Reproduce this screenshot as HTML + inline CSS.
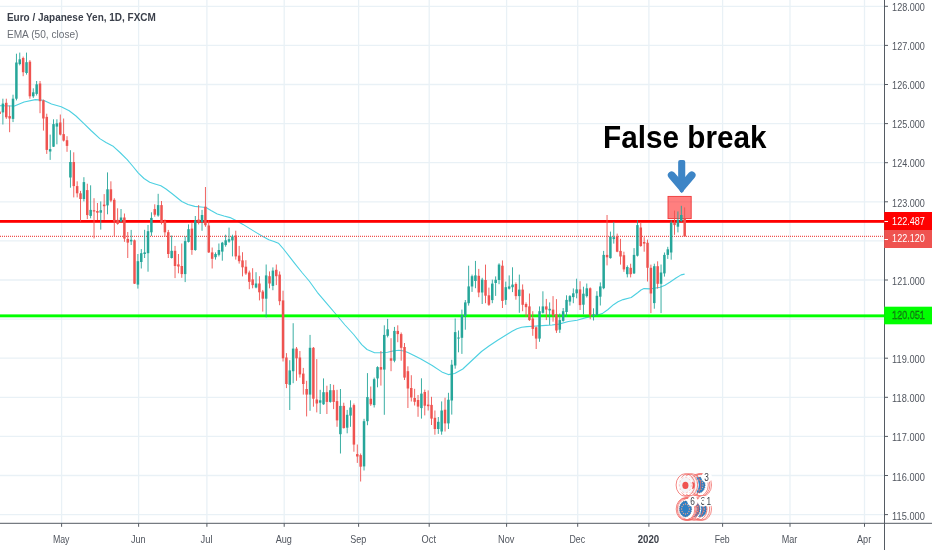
<!DOCTYPE html>
<html lang="en"><head><meta charset="utf-8"><title>EURJPY False break</title>
<style>html,body{margin:0;padding:0;background:#fff;width:932px;height:550px;overflow:hidden}</style></head>
<body>
<svg width="932" height="550" viewBox="0 0 932 550" style="display:block;filter:blur(0.4px)">
<rect width="932" height="550" fill="#fff"/>
<g stroke="#e9f1f6" stroke-width="1.3" shape-rendering="auto">
<line x1="0" x2="884.5" y1="514.6" y2="514.6"/>
<line x1="0" x2="884.5" y1="475.5" y2="475.5"/>
<line x1="0" x2="884.5" y1="436.4" y2="436.4"/>
<line x1="0" x2="884.5" y1="397.3" y2="397.3"/>
<line x1="0" x2="884.5" y1="358.2" y2="358.2"/>
<line x1="0" x2="884.5" y1="319.1" y2="319.1"/>
<line x1="0" x2="884.5" y1="280.0" y2="280.0"/>
<line x1="0" x2="884.5" y1="240.9" y2="240.9"/>
<line x1="0" x2="884.5" y1="201.8" y2="201.8"/>
<line x1="0" x2="884.5" y1="162.7" y2="162.7"/>
<line x1="0" x2="884.5" y1="123.6" y2="123.6"/>
<line x1="0" x2="884.5" y1="84.5" y2="84.5"/>
<line x1="0" x2="884.5" y1="45.4" y2="45.4"/>
<line x1="0" x2="884.5" y1="6.3" y2="6.3"/>
<line x1="61.6" x2="61.6" y1="0" y2="523.3"/>
<line x1="138.6" x2="138.6" y1="0" y2="523.3"/>
<line x1="206.9" x2="206.9" y1="0" y2="523.3"/>
<line x1="284.2" x2="284.2" y1="0" y2="523.3"/>
<line x1="358.6" x2="358.6" y1="0" y2="523.3"/>
<line x1="429.2" x2="429.2" y1="0" y2="523.3"/>
<line x1="506.6" x2="506.6" y1="0" y2="523.3"/>
<line x1="577.7" x2="577.7" y1="0" y2="523.3"/>
<line x1="648.9" x2="648.9" y1="0" y2="523.3"/>
<line x1="722.6" x2="722.6" y1="0" y2="523.3"/>
<line x1="790.0" x2="790.0" y1="0" y2="523.3"/>
<line x1="864.5" x2="864.5" y1="0" y2="523.3"/>
</g>
<path d="M0.0 105.7 L14.5 106.0 L24.1 102.0 L35.4 99.6 L43.5 100.2 L51.5 104.0 L61.2 106.8 L69.2 110.8 L76.0 116.0 L83.7 123.3 L91.0 130.5 L99.8 138.6 L106.0 142.5 L112.7 145.9 L120.0 152.5 L127.2 159.6 L133.0 166.5 L138.4 173.2 L144.0 178.5 L149.7 182.3 L155.0 184.0 L160.9 185.8 L166.0 189.0 L172.2 193.8 L181.8 201.5 L188.0 204.5 L194.7 206.4 L201.0 207.0 L206.0 207.5 L211.0 210.5 L217.3 213.9 L224.0 216.0 L230.1 217.6 L236.0 220.5 L243.0 224.4 L255.9 232.4 L262.0 236.0 L268.8 239.7 L274.0 241.5 L278.4 243.2 L283.5 249.0 L294.7 263.3 L302.0 272.5 L309.2 281.0 L317.3 292.3 L326.9 303.6 L336.6 315.0 L345.0 325.0 L353.7 334.5 L361.7 344.6 L367.0 349.5 L374.6 352.7 L381.0 352.8 L387.5 352.2 L393.0 351.0 L398.8 350.2 L404.0 351.0 L408.4 352.7 L415.0 356.0 L420.9 359.0 L432.2 365.5 L441.8 371.9 L448.3 374.6 L454.7 373.5 L462.8 369.0 L470.8 361.5 L481.5 351.5 L489.0 346.0 L497.6 340.2 L512.1 331.3 L517.0 328.8 L521.7 327.3 L527.0 326.6 L533.0 326.2 L545.9 325.4 L552.0 325.0 L558.8 324.1 L568.4 321.5 L577.0 320.2 L586.1 317.6 L595.0 315.8 L602.2 313.6 L608.0 309.5 L613.5 304.7 L618.0 301.8 L623.1 299.6 L631.2 297.5 L637.6 292.7 L641.0 290.0 L644.0 288.6 L650.5 288.9 L660.1 287.3 L665.0 285.2 L669.8 282.2 L676.0 278.0 L681.1 274.9 L684.6 274.1" fill="none" stroke="#4dd0e1" stroke-width="1.1" stroke-linejoin="round"/>
<rect x="0" y="220.0" width="884.5" height="2.8" fill="#ff0000"/>
<rect x="0" y="314.4" width="884.5" height="2.9" fill="#00ff00"/>
<line x1="0" x2="884.5" y1="236.3" y2="236.3" stroke="#ef5350" stroke-width="1.25" stroke-dasharray="1 1"/>
<rect x="668.0" y="196.4" width="23.2" height="22.2" fill="rgba(255,0,0,0.5)" stroke="rgba(238,50,50,0.95)" stroke-width="0.9"/>
<g>
<rect x="0" y="111.6" width="0.8" height="2.4" fill="#ef5350"/>
<rect x="2.44" y="98.7" width="0.9" height="25.8" fill="#26a69a"/>
<rect x="1.65" y="103.6" width="2.5" height="8.8" fill="#26a69a"/>
<rect x="5.82" y="98.7" width="0.9" height="20.2" fill="#ef5350"/>
<rect x="5.02" y="102.8" width="2.5" height="14.5" fill="#ef5350"/>
<rect x="9.20" y="105.6" width="0.9" height="26.6" fill="#ef5350"/>
<rect x="8.40" y="116.1" width="2.5" height="2.4" fill="#ef5350"/>
<rect x="12.57" y="94.7" width="0.9" height="27.4" fill="#26a69a"/>
<rect x="11.77" y="98.7" width="2.5" height="20.2" fill="#26a69a"/>
<rect x="15.95" y="53.7" width="0.9" height="46.7" fill="#26a69a"/>
<rect x="15.15" y="62.5" width="2.5" height="36.2" fill="#26a69a"/>
<rect x="19.32" y="52.6" width="0.9" height="12.8" fill="#26a69a"/>
<rect x="18.52" y="59.3" width="2.5" height="4.8" fill="#26a69a"/>
<rect x="22.70" y="56.6" width="0.9" height="19.6" fill="#ef5350"/>
<rect x="21.90" y="58.0" width="2.5" height="14.2" fill="#ef5350"/>
<rect x="26.07" y="52.6" width="0.9" height="22.0" fill="#26a69a"/>
<rect x="25.27" y="62.2" width="2.5" height="10.8" fill="#26a69a"/>
<rect x="29.45" y="60.1" width="0.9" height="38.6" fill="#ef5350"/>
<rect x="28.65" y="61.7" width="2.5" height="34.6" fill="#ef5350"/>
<rect x="32.82" y="88.3" width="0.9" height="9.6" fill="#26a69a"/>
<rect x="32.02" y="92.3" width="2.5" height="4.0" fill="#26a69a"/>
<rect x="36.20" y="81.0" width="0.9" height="14.5" fill="#26a69a"/>
<rect x="35.40" y="84.3" width="2.5" height="9.6" fill="#26a69a"/>
<rect x="39.57" y="81.0" width="0.9" height="32.2" fill="#ef5350"/>
<rect x="38.77" y="83.5" width="2.5" height="17.7" fill="#ef5350"/>
<rect x="42.95" y="99.6" width="0.9" height="31.0" fill="#ef5350"/>
<rect x="42.15" y="100.4" width="2.5" height="18.1" fill="#ef5350"/>
<rect x="46.32" y="113.7" width="0.9" height="40.2" fill="#ef5350"/>
<rect x="45.52" y="116.9" width="2.5" height="33.0" fill="#ef5350"/>
<rect x="49.70" y="134.6" width="0.9" height="25.3" fill="#26a69a"/>
<rect x="48.90" y="149.1" width="2.5" height="2.4" fill="#26a69a"/>
<rect x="53.07" y="119.3" width="0.9" height="27.7" fill="#26a69a"/>
<rect x="52.27" y="124.1" width="2.5" height="22.6" fill="#26a69a"/>
<rect x="56.45" y="119.3" width="0.9" height="25.0" fill="#26a69a"/>
<rect x="55.65" y="123.3" width="2.5" height="3.3" fill="#26a69a"/>
<rect x="59.82" y="114.5" width="0.9" height="20.9" fill="#ef5350"/>
<rect x="59.02" y="122.5" width="2.5" height="12.1" fill="#ef5350"/>
<rect x="63.20" y="118.5" width="0.9" height="23.0" fill="#ef5350"/>
<rect x="62.40" y="134.1" width="2.5" height="6.5" fill="#ef5350"/>
<rect x="66.57" y="136.2" width="0.9" height="15.6" fill="#ef5350"/>
<rect x="65.77" y="140.2" width="2.5" height="5.7" fill="#ef5350"/>
<rect x="69.95" y="150.2" width="0.9" height="37.5" fill="#26a69a"/>
<rect x="69.15" y="162.0" width="2.5" height="15.5" fill="#26a69a"/>
<rect x="73.32" y="152.3" width="0.9" height="45.1" fill="#ef5350"/>
<rect x="72.52" y="162.0" width="2.5" height="24.1" fill="#ef5350"/>
<rect x="76.70" y="181.3" width="0.9" height="16.1" fill="#ef5350"/>
<rect x="75.90" y="186.1" width="2.5" height="7.2" fill="#ef5350"/>
<rect x="80.07" y="190.9" width="0.9" height="30.6" fill="#ef5350"/>
<rect x="79.27" y="193.3" width="2.5" height="5.7" fill="#ef5350"/>
<rect x="83.45" y="177.2" width="0.9" height="24.2" fill="#26a69a"/>
<rect x="82.65" y="182.1" width="2.5" height="16.9" fill="#26a69a"/>
<rect x="86.82" y="183.7" width="0.9" height="35.4" fill="#ef5350"/>
<rect x="86.02" y="190.1" width="2.5" height="25.0" fill="#ef5350"/>
<rect x="90.20" y="185.3" width="0.9" height="33.0" fill="#26a69a"/>
<rect x="89.40" y="209.9" width="2.5" height="6.0" fill="#26a69a"/>
<rect x="93.57" y="198.2" width="0.9" height="40.2" fill="#ef5350"/>
<rect x="92.77" y="210.2" width="2.5" height="1.3" fill="#ef5350"/>
<rect x="96.95" y="203.0" width="0.9" height="17.0" fill="#ef5350"/>
<rect x="96.15" y="211.0" width="2.5" height="1.7" fill="#ef5350"/>
<rect x="100.32" y="201.4" width="0.9" height="28.2" fill="#26a69a"/>
<rect x="99.52" y="210.2" width="2.5" height="2.5" fill="#26a69a"/>
<rect x="103.70" y="194.1" width="0.9" height="25.8" fill="#ef5350"/>
<rect x="102.90" y="204.6" width="2.5" height="1.6" fill="#ef5350"/>
<rect x="107.07" y="172.4" width="0.9" height="41.9" fill="#26a69a"/>
<rect x="106.27" y="189.3" width="2.5" height="16.1" fill="#26a69a"/>
<rect x="110.45" y="181.3" width="0.9" height="20.9" fill="#ef5350"/>
<rect x="109.65" y="189.3" width="2.5" height="11.3" fill="#ef5350"/>
<rect x="113.82" y="198.2" width="0.9" height="38.0" fill="#ef5350"/>
<rect x="113.02" y="199.8" width="2.5" height="21.7" fill="#ef5350"/>
<rect x="117.20" y="208.3" width="0.9" height="16.4" fill="#ef5350"/>
<rect x="116.40" y="219.9" width="2.5" height="4.0" fill="#ef5350"/>
<rect x="120.57" y="209.0" width="0.9" height="13.3" fill="#26a69a"/>
<rect x="119.77" y="217.5" width="2.5" height="4.0" fill="#26a69a"/>
<rect x="123.95" y="213.5" width="0.9" height="28.3" fill="#ef5350"/>
<rect x="123.15" y="217.5" width="2.5" height="21.1" fill="#ef5350"/>
<rect x="127.32" y="232.0" width="0.9" height="26.0" fill="#ef5350"/>
<rect x="126.52" y="238.9" width="2.5" height="3.7" fill="#ef5350"/>
<rect x="130.70" y="229.9" width="0.9" height="15.1" fill="#26a69a"/>
<rect x="129.90" y="239.8" width="2.5" height="1.6" fill="#26a69a"/>
<rect x="134.07" y="239.5" width="0.9" height="44.5" fill="#ef5350"/>
<rect x="133.27" y="240.3" width="2.5" height="43.4" fill="#ef5350"/>
<rect x="137.45" y="254.0" width="0.9" height="34.6" fill="#26a69a"/>
<rect x="136.65" y="261.2" width="2.5" height="23.4" fill="#26a69a"/>
<rect x="140.82" y="249.1" width="0.9" height="19.4" fill="#26a69a"/>
<rect x="140.02" y="253.2" width="2.5" height="8.8" fill="#26a69a"/>
<rect x="144.20" y="229.8" width="0.9" height="28.2" fill="#26a69a"/>
<rect x="143.40" y="252.4" width="2.5" height="1.6" fill="#26a69a"/>
<rect x="147.57" y="225.0" width="0.9" height="46.7" fill="#26a69a"/>
<rect x="146.77" y="231.2" width="2.5" height="22.0" fill="#26a69a"/>
<rect x="150.95" y="212.3" width="0.9" height="23.6" fill="#26a69a"/>
<rect x="150.15" y="217.9" width="2.5" height="14.4" fill="#26a69a"/>
<rect x="154.32" y="204.3" width="0.9" height="12.4" fill="#ef5350"/>
<rect x="153.52" y="209.1" width="2.5" height="5.6" fill="#ef5350"/>
<rect x="157.70" y="193.8" width="0.9" height="22.9" fill="#26a69a"/>
<rect x="156.90" y="205.1" width="2.5" height="10.4" fill="#26a69a"/>
<rect x="161.07" y="201.0" width="0.9" height="23.4" fill="#ef5350"/>
<rect x="160.27" y="205.1" width="2.5" height="16.9" fill="#ef5350"/>
<rect x="164.45" y="219.6" width="0.9" height="17.2" fill="#ef5350"/>
<rect x="163.65" y="221.2" width="2.5" height="11.1" fill="#ef5350"/>
<rect x="167.82" y="229.9" width="0.9" height="28.1" fill="#ef5350"/>
<rect x="167.02" y="232.2" width="2.5" height="21.8" fill="#ef5350"/>
<rect x="171.20" y="235.5" width="0.9" height="23.0" fill="#26a69a"/>
<rect x="170.40" y="250.8" width="2.5" height="7.2" fill="#26a69a"/>
<rect x="174.58" y="245.9" width="0.9" height="32.2" fill="#ef5350"/>
<rect x="173.78" y="250.8" width="2.5" height="15.2" fill="#ef5350"/>
<rect x="177.95" y="254.0" width="0.9" height="19.3" fill="#ef5350"/>
<rect x="177.15" y="264.4" width="2.5" height="2.1" fill="#ef5350"/>
<rect x="181.33" y="243.5" width="0.9" height="34.3" fill="#ef5350"/>
<rect x="180.53" y="266.0" width="2.5" height="8.1" fill="#ef5350"/>
<rect x="184.70" y="236.3" width="0.9" height="45.8" fill="#26a69a"/>
<rect x="183.90" y="241.1" width="2.5" height="33.0" fill="#26a69a"/>
<rect x="188.08" y="224.4" width="0.9" height="18.1" fill="#26a69a"/>
<rect x="187.28" y="229.2" width="2.5" height="12.7" fill="#26a69a"/>
<rect x="191.45" y="223.1" width="0.9" height="31.7" fill="#ef5350"/>
<rect x="190.65" y="228.6" width="2.5" height="21.4" fill="#ef5350"/>
<rect x="194.83" y="216.0" width="0.9" height="34.8" fill="#26a69a"/>
<rect x="194.03" y="220.4" width="2.5" height="29.6" fill="#26a69a"/>
<rect x="198.20" y="205.1" width="0.9" height="19.3" fill="#ef5350"/>
<rect x="197.40" y="219.6" width="2.5" height="2.4" fill="#ef5350"/>
<rect x="201.58" y="209.9" width="0.9" height="20.9" fill="#26a69a"/>
<rect x="200.78" y="215.0" width="2.5" height="7.0" fill="#26a69a"/>
<rect x="204.95" y="187.0" width="0.9" height="39.8" fill="#ef5350"/>
<rect x="204.15" y="206.7" width="2.5" height="18.5" fill="#ef5350"/>
<rect x="208.33" y="220.4" width="0.9" height="32.6" fill="#ef5350"/>
<rect x="207.53" y="225.5" width="2.5" height="26.9" fill="#ef5350"/>
<rect x="211.70" y="247.5" width="0.9" height="21.0" fill="#ef5350"/>
<rect x="210.90" y="252.4" width="2.5" height="6.4" fill="#ef5350"/>
<rect x="215.08" y="252.4" width="0.9" height="7.2" fill="#26a69a"/>
<rect x="214.28" y="254.0" width="2.5" height="3.2" fill="#26a69a"/>
<rect x="218.45" y="243.5" width="0.9" height="12.9" fill="#26a69a"/>
<rect x="217.65" y="250.0" width="2.5" height="4.8" fill="#26a69a"/>
<rect x="221.83" y="241.9" width="0.9" height="18.8" fill="#26a69a"/>
<rect x="221.03" y="242.7" width="2.5" height="8.9" fill="#26a69a"/>
<rect x="225.20" y="234.7" width="0.9" height="12.0" fill="#26a69a"/>
<rect x="224.40" y="240.3" width="2.5" height="4.8" fill="#26a69a"/>
<rect x="228.58" y="227.6" width="0.9" height="15.1" fill="#26a69a"/>
<rect x="227.78" y="239.2" width="2.5" height="2.4" fill="#26a69a"/>
<rect x="231.95" y="234.7" width="0.9" height="21.7" fill="#26a69a"/>
<rect x="231.15" y="236.4" width="2.5" height="4.0" fill="#26a69a"/>
<rect x="235.33" y="230.7" width="0.9" height="28.9" fill="#ef5350"/>
<rect x="234.53" y="235.5" width="2.5" height="20.9" fill="#ef5350"/>
<rect x="238.70" y="245.9" width="0.9" height="17.7" fill="#ef5350"/>
<rect x="237.90" y="255.6" width="2.5" height="5.6" fill="#ef5350"/>
<rect x="242.08" y="252.2" width="0.9" height="24.2" fill="#ef5350"/>
<rect x="241.28" y="260.4" width="2.5" height="6.9" fill="#ef5350"/>
<rect x="245.45" y="260.2" width="0.9" height="14.7" fill="#ef5350"/>
<rect x="244.65" y="266.7" width="2.5" height="6.8" fill="#ef5350"/>
<rect x="248.83" y="270.6" width="0.9" height="18.6" fill="#ef5350"/>
<rect x="248.03" y="272.5" width="2.5" height="9.3" fill="#ef5350"/>
<rect x="252.20" y="268.2" width="0.9" height="20.1" fill="#ef5350"/>
<rect x="251.40" y="279.4" width="2.5" height="5.7" fill="#ef5350"/>
<rect x="255.58" y="272.2" width="0.9" height="16.1" fill="#26a69a"/>
<rect x="254.78" y="283.5" width="2.5" height="4.0" fill="#26a69a"/>
<rect x="258.95" y="276.2" width="0.9" height="24.2" fill="#ef5350"/>
<rect x="258.15" y="283.5" width="2.5" height="8.8" fill="#ef5350"/>
<rect x="262.33" y="289.9" width="0.9" height="21.7" fill="#ef5350"/>
<rect x="261.53" y="291.5" width="2.5" height="7.2" fill="#ef5350"/>
<rect x="265.70" y="264.5" width="0.9" height="52.8" fill="#26a69a"/>
<rect x="264.90" y="275.4" width="2.5" height="23.3" fill="#26a69a"/>
<rect x="269.08" y="271.4" width="0.9" height="16.9" fill="#ef5350"/>
<rect x="268.28" y="276.2" width="2.5" height="7.3" fill="#ef5350"/>
<rect x="272.45" y="267.4" width="0.9" height="22.8" fill="#26a69a"/>
<rect x="271.65" y="270.6" width="2.5" height="15.3" fill="#26a69a"/>
<rect x="275.83" y="264.5" width="0.9" height="20.6" fill="#ef5350"/>
<rect x="275.03" y="269.8" width="2.5" height="6.4" fill="#ef5350"/>
<rect x="279.20" y="271.4" width="0.9" height="33.8" fill="#ef5350"/>
<rect x="278.40" y="274.6" width="2.5" height="26.6" fill="#ef5350"/>
<rect x="282.58" y="290.7" width="0.9" height="70.8" fill="#ef5350"/>
<rect x="281.78" y="300.4" width="2.5" height="57.9" fill="#ef5350"/>
<rect x="285.95" y="353.1" width="0.9" height="35.0" fill="#ef5350"/>
<rect x="285.15" y="357.5" width="2.5" height="26.5" fill="#ef5350"/>
<rect x="289.33" y="360.2" width="0.9" height="49.8" fill="#26a69a"/>
<rect x="288.53" y="370.4" width="2.5" height="14.4" fill="#26a69a"/>
<rect x="292.70" y="323.2" width="0.9" height="60.0" fill="#26a69a"/>
<rect x="291.90" y="348.6" width="2.5" height="22.6" fill="#26a69a"/>
<rect x="296.08" y="347.0" width="0.9" height="33.8" fill="#ef5350"/>
<rect x="295.28" y="348.6" width="2.5" height="9.7" fill="#ef5350"/>
<rect x="299.45" y="351.0" width="0.9" height="26.6" fill="#ef5350"/>
<rect x="298.65" y="357.5" width="2.5" height="16.9" fill="#ef5350"/>
<rect x="302.83" y="367.9" width="0.9" height="26.7" fill="#ef5350"/>
<rect x="302.03" y="373.6" width="2.5" height="10.4" fill="#ef5350"/>
<rect x="306.20" y="380.8" width="0.9" height="35.6" fill="#ef5350"/>
<rect x="305.40" y="389.0" width="2.5" height="5.6" fill="#ef5350"/>
<rect x="309.58" y="334.9" width="0.9" height="75.9" fill="#26a69a"/>
<rect x="308.78" y="347.8" width="2.5" height="46.8" fill="#26a69a"/>
<rect x="312.95" y="347.0" width="0.9" height="59.7" fill="#ef5350"/>
<rect x="312.15" y="347.8" width="2.5" height="50.9" fill="#ef5350"/>
<rect x="316.33" y="359.1" width="0.9" height="53.3" fill="#ef5350"/>
<rect x="315.53" y="399.5" width="2.5" height="4.0" fill="#ef5350"/>
<rect x="319.70" y="389.8" width="0.9" height="24.2" fill="#26a69a"/>
<rect x="318.90" y="400.3" width="2.5" height="2.4" fill="#26a69a"/>
<rect x="323.08" y="378.4" width="0.9" height="26.4" fill="#26a69a"/>
<rect x="322.28" y="392.2" width="2.5" height="12.1" fill="#26a69a"/>
<rect x="326.45" y="385.7" width="0.9" height="28.3" fill="#ef5350"/>
<rect x="325.65" y="392.2" width="2.5" height="9.7" fill="#ef5350"/>
<rect x="329.83" y="384.0" width="0.9" height="18.7" fill="#26a69a"/>
<rect x="329.03" y="390.2" width="2.5" height="11.7" fill="#26a69a"/>
<rect x="333.20" y="384.8" width="0.9" height="24.3" fill="#ef5350"/>
<rect x="332.40" y="390.2" width="2.5" height="11.7" fill="#ef5350"/>
<rect x="336.58" y="389.8" width="0.9" height="37.0" fill="#ef5350"/>
<rect x="335.78" y="401.1" width="2.5" height="19.3" fill="#ef5350"/>
<rect x="339.96" y="389.0" width="0.9" height="64.5" fill="#26a69a"/>
<rect x="339.16" y="405.9" width="2.5" height="28.3" fill="#26a69a"/>
<rect x="343.33" y="402.7" width="0.9" height="25.8" fill="#ef5350"/>
<rect x="342.53" y="405.9" width="2.5" height="22.2" fill="#ef5350"/>
<rect x="346.71" y="409.9" width="0.9" height="23.4" fill="#26a69a"/>
<rect x="345.91" y="414.8" width="2.5" height="12.9" fill="#26a69a"/>
<rect x="350.08" y="400.3" width="0.9" height="26.5" fill="#26a69a"/>
<rect x="349.28" y="407.5" width="2.5" height="8.1" fill="#26a69a"/>
<rect x="353.46" y="403.5" width="0.9" height="48.2" fill="#ef5350"/>
<rect x="352.66" y="405.1" width="2.5" height="39.5" fill="#ef5350"/>
<rect x="356.83" y="444.5" width="0.9" height="18.4" fill="#ef5350"/>
<rect x="356.03" y="454.1" width="2.5" height="2.4" fill="#ef5350"/>
<rect x="360.21" y="453.5" width="0.9" height="28.0" fill="#ef5350"/>
<rect x="359.41" y="455.1" width="2.5" height="11.6" fill="#ef5350"/>
<rect x="363.58" y="418.8" width="0.9" height="51.7" fill="#26a69a"/>
<rect x="362.78" y="421.2" width="2.5" height="45.2" fill="#26a69a"/>
<rect x="366.96" y="373.1" width="0.9" height="52.1" fill="#26a69a"/>
<rect x="366.16" y="397.1" width="2.5" height="24.1" fill="#26a69a"/>
<rect x="370.33" y="386.5" width="0.9" height="19.4" fill="#ef5350"/>
<rect x="369.53" y="398.7" width="2.5" height="5.6" fill="#ef5350"/>
<rect x="373.71" y="377.6" width="0.9" height="29.9" fill="#26a69a"/>
<rect x="372.91" y="379.2" width="2.5" height="25.9" fill="#26a69a"/>
<rect x="377.08" y="366.3" width="0.9" height="21.0" fill="#26a69a"/>
<rect x="376.28" y="367.1" width="2.5" height="11.3" fill="#26a69a"/>
<rect x="380.46" y="351.0" width="0.9" height="34.6" fill="#ef5350"/>
<rect x="379.66" y="367.1" width="2.5" height="2.5" fill="#ef5350"/>
<rect x="383.83" y="325.3" width="0.9" height="89.5" fill="#26a69a"/>
<rect x="383.03" y="334.9" width="2.5" height="34.7" fill="#26a69a"/>
<rect x="387.21" y="318.9" width="0.9" height="18.5" fill="#26a69a"/>
<rect x="386.41" y="329.3" width="2.5" height="6.5" fill="#26a69a"/>
<rect x="390.58" y="338.2" width="0.9" height="33.0" fill="#ef5350"/>
<rect x="389.78" y="358.3" width="2.5" height="2.4" fill="#ef5350"/>
<rect x="393.96" y="326.9" width="0.9" height="35.4" fill="#26a69a"/>
<rect x="393.16" y="330.9" width="2.5" height="29.8" fill="#26a69a"/>
<rect x="397.33" y="325.3" width="0.9" height="16.9" fill="#ef5350"/>
<rect x="396.53" y="330.9" width="2.5" height="3.2" fill="#ef5350"/>
<rect x="400.71" y="332.5" width="0.9" height="28.2" fill="#ef5350"/>
<rect x="399.91" y="334.1" width="2.5" height="13.7" fill="#ef5350"/>
<rect x="404.08" y="343.0" width="0.9" height="37.0" fill="#ef5350"/>
<rect x="403.28" y="347.0" width="2.5" height="30.6" fill="#ef5350"/>
<rect x="407.46" y="366.3" width="0.9" height="41.7" fill="#ef5350"/>
<rect x="406.66" y="371.2" width="2.5" height="17.3" fill="#ef5350"/>
<rect x="410.83" y="375.2" width="0.9" height="26.3" fill="#ef5350"/>
<rect x="410.03" y="388.0" width="2.5" height="9.5" fill="#ef5350"/>
<rect x="414.21" y="388.8" width="0.9" height="16.7" fill="#ef5350"/>
<rect x="413.41" y="398.0" width="2.5" height="3.8" fill="#ef5350"/>
<rect x="417.58" y="395.0" width="0.9" height="21.8" fill="#ef5350"/>
<rect x="416.78" y="400.0" width="2.5" height="6.6" fill="#ef5350"/>
<rect x="420.96" y="378.3" width="0.9" height="40.3" fill="#26a69a"/>
<rect x="420.16" y="393.6" width="2.5" height="14.5" fill="#26a69a"/>
<rect x="424.33" y="389.6" width="0.9" height="25.8" fill="#ef5350"/>
<rect x="423.53" y="392.0" width="2.5" height="13.7" fill="#ef5350"/>
<rect x="427.71" y="390.4" width="0.9" height="20.1" fill="#ef5350"/>
<rect x="426.91" y="404.6" width="2.5" height="1.6" fill="#ef5350"/>
<rect x="431.08" y="396.8" width="0.9" height="28.2" fill="#ef5350"/>
<rect x="430.28" y="404.9" width="2.5" height="13.7" fill="#ef5350"/>
<rect x="434.46" y="410.5" width="0.9" height="24.2" fill="#ef5350"/>
<rect x="433.66" y="417.8" width="2.5" height="11.2" fill="#ef5350"/>
<rect x="437.83" y="417.0" width="0.9" height="16.9" fill="#26a69a"/>
<rect x="437.03" y="421.8" width="2.5" height="7.2" fill="#26a69a"/>
<rect x="441.21" y="401.4" width="0.9" height="33.3" fill="#26a69a"/>
<rect x="440.41" y="410.5" width="2.5" height="21.0" fill="#26a69a"/>
<rect x="444.58" y="397.7" width="0.9" height="33.8" fill="#ef5350"/>
<rect x="443.78" y="409.7" width="2.5" height="13.7" fill="#ef5350"/>
<rect x="447.96" y="392.8" width="0.9" height="36.2" fill="#26a69a"/>
<rect x="447.16" y="399.7" width="2.5" height="23.7" fill="#26a69a"/>
<rect x="451.33" y="359.8" width="0.9" height="54.8" fill="#26a69a"/>
<rect x="450.53" y="364.7" width="2.5" height="35.8" fill="#26a69a"/>
<rect x="454.71" y="318.5" width="0.9" height="50.2" fill="#26a69a"/>
<rect x="453.91" y="332.1" width="2.5" height="33.4" fill="#26a69a"/>
<rect x="458.08" y="330.5" width="0.9" height="21.8" fill="#26a69a"/>
<rect x="457.28" y="337.5" width="2.5" height="1.1" fill="#26a69a"/>
<rect x="461.46" y="309.6" width="0.9" height="44.3" fill="#26a69a"/>
<rect x="460.66" y="315.2" width="2.5" height="22.6" fill="#26a69a"/>
<rect x="464.83" y="300.0" width="0.9" height="29.7" fill="#26a69a"/>
<rect x="464.03" y="302.4" width="2.5" height="13.6" fill="#26a69a"/>
<rect x="468.21" y="265.7" width="0.9" height="39.9" fill="#26a69a"/>
<rect x="467.41" y="286.4" width="2.5" height="16.8" fill="#26a69a"/>
<rect x="471.58" y="274.6" width="0.9" height="17.3" fill="#26a69a"/>
<rect x="470.78" y="276.2" width="2.5" height="10.3" fill="#26a69a"/>
<rect x="474.96" y="260.9" width="0.9" height="27.3" fill="#26a69a"/>
<rect x="474.16" y="275.4" width="2.5" height="5.6" fill="#26a69a"/>
<rect x="478.33" y="268.9" width="0.9" height="28.3" fill="#ef5350"/>
<rect x="477.53" y="275.8" width="2.5" height="16.7" fill="#ef5350"/>
<rect x="481.71" y="277.8" width="0.9" height="26.2" fill="#26a69a"/>
<rect x="480.91" y="279.6" width="2.5" height="12.9" fill="#26a69a"/>
<rect x="485.08" y="264.6" width="0.9" height="38.6" fill="#ef5350"/>
<rect x="484.28" y="280.0" width="2.5" height="15.7" fill="#ef5350"/>
<rect x="488.46" y="287.6" width="0.9" height="18.3" fill="#ef5350"/>
<rect x="487.66" y="295.3" width="2.5" height="9.5" fill="#ef5350"/>
<rect x="491.83" y="279.6" width="0.9" height="23.6" fill="#26a69a"/>
<rect x="491.03" y="283.6" width="2.5" height="16.5" fill="#26a69a"/>
<rect x="495.21" y="276.4" width="0.9" height="19.5" fill="#26a69a"/>
<rect x="494.41" y="279.8" width="2.5" height="3.2" fill="#26a69a"/>
<rect x="498.58" y="263.3" width="0.9" height="20.9" fill="#26a69a"/>
<rect x="497.78" y="264.6" width="2.5" height="15.4" fill="#26a69a"/>
<rect x="501.96" y="260.4" width="0.9" height="47.6" fill="#ef5350"/>
<rect x="501.16" y="265.7" width="2.5" height="35.2" fill="#ef5350"/>
<rect x="505.33" y="281.6" width="0.9" height="23.2" fill="#26a69a"/>
<rect x="504.53" y="287.2" width="2.5" height="12.7" fill="#26a69a"/>
<rect x="508.71" y="275.4" width="0.9" height="14.1" fill="#26a69a"/>
<rect x="507.91" y="286.4" width="2.5" height="2.3" fill="#26a69a"/>
<rect x="512.09" y="267.3" width="0.9" height="24.8" fill="#26a69a"/>
<rect x="511.29" y="284.6" width="2.5" height="2.6" fill="#26a69a"/>
<rect x="515.46" y="282.4" width="0.9" height="17.3" fill="#ef5350"/>
<rect x="514.66" y="284.0" width="2.5" height="12.1" fill="#ef5350"/>
<rect x="518.84" y="274.6" width="0.9" height="38.2" fill="#26a69a"/>
<rect x="518.04" y="289.6" width="2.5" height="6.5" fill="#26a69a"/>
<rect x="522.21" y="284.4" width="0.9" height="26.8" fill="#ef5350"/>
<rect x="521.41" y="289.6" width="2.5" height="15.2" fill="#ef5350"/>
<rect x="525.59" y="302.4" width="0.9" height="14.4" fill="#ef5350"/>
<rect x="524.79" y="304.0" width="2.5" height="3.2" fill="#ef5350"/>
<rect x="528.96" y="293.5" width="0.9" height="27.4" fill="#ef5350"/>
<rect x="528.16" y="306.4" width="2.5" height="13.7" fill="#ef5350"/>
<rect x="532.34" y="311.2" width="0.9" height="24.6" fill="#ef5350"/>
<rect x="531.54" y="318.5" width="2.5" height="10.4" fill="#ef5350"/>
<rect x="535.71" y="326.5" width="0.9" height="22.5" fill="#ef5350"/>
<rect x="534.91" y="327.3" width="2.5" height="11.3" fill="#ef5350"/>
<rect x="539.09" y="306.4" width="0.9" height="35.4" fill="#26a69a"/>
<rect x="538.29" y="311.2" width="2.5" height="27.4" fill="#26a69a"/>
<rect x="542.46" y="291.3" width="0.9" height="22.3" fill="#26a69a"/>
<rect x="541.66" y="306.4" width="2.5" height="6.4" fill="#26a69a"/>
<rect x="545.84" y="298.9" width="0.9" height="21.2" fill="#ef5350"/>
<rect x="545.04" y="306.4" width="2.5" height="3.2" fill="#ef5350"/>
<rect x="549.21" y="302.4" width="0.9" height="22.5" fill="#26a69a"/>
<rect x="548.41" y="308.8" width="2.5" height="1.6" fill="#26a69a"/>
<rect x="552.59" y="296.1" width="0.9" height="25.6" fill="#ef5350"/>
<rect x="551.79" y="309.6" width="2.5" height="5.6" fill="#ef5350"/>
<rect x="555.96" y="299.1" width="0.9" height="33.8" fill="#ef5350"/>
<rect x="555.16" y="314.4" width="2.5" height="16.1" fill="#ef5350"/>
<rect x="559.34" y="313.6" width="0.9" height="19.3" fill="#26a69a"/>
<rect x="558.54" y="320.1" width="2.5" height="9.6" fill="#26a69a"/>
<rect x="562.71" y="308.0" width="0.9" height="13.7" fill="#26a69a"/>
<rect x="561.91" y="311.2" width="2.5" height="9.7" fill="#26a69a"/>
<rect x="566.09" y="295.3" width="0.9" height="21.5" fill="#26a69a"/>
<rect x="565.29" y="299.9" width="2.5" height="12.1" fill="#26a69a"/>
<rect x="569.46" y="295.1" width="0.9" height="10.5" fill="#26a69a"/>
<rect x="568.66" y="296.1" width="2.5" height="5.5" fill="#26a69a"/>
<rect x="572.84" y="288.4" width="0.9" height="14.8" fill="#26a69a"/>
<rect x="572.04" y="293.3" width="2.5" height="3.8" fill="#26a69a"/>
<rect x="576.21" y="278.7" width="0.9" height="19.6" fill="#26a69a"/>
<rect x="575.41" y="289.4" width="2.5" height="3.9" fill="#26a69a"/>
<rect x="579.59" y="281.2" width="0.9" height="28.8" fill="#ef5350"/>
<rect x="578.79" y="289.4" width="2.5" height="15.7" fill="#ef5350"/>
<rect x="582.96" y="286.7" width="0.9" height="27.7" fill="#26a69a"/>
<rect x="582.16" y="293.7" width="2.5" height="11.0" fill="#26a69a"/>
<rect x="586.34" y="283.5" width="0.9" height="14.0" fill="#26a69a"/>
<rect x="585.54" y="288.3" width="2.5" height="7.8" fill="#26a69a"/>
<rect x="589.71" y="287.4" width="0.9" height="31.8" fill="#ef5350"/>
<rect x="588.91" y="288.3" width="2.5" height="26.9" fill="#ef5350"/>
<rect x="593.09" y="308.3" width="0.9" height="12.2" fill="#26a69a"/>
<rect x="592.29" y="314.4" width="2.5" height="1.9" fill="#26a69a"/>
<rect x="596.46" y="291.2" width="0.9" height="24.4" fill="#26a69a"/>
<rect x="595.66" y="295.8" width="2.5" height="19.4" fill="#26a69a"/>
<rect x="599.84" y="282.4" width="0.9" height="23.1" fill="#26a69a"/>
<rect x="599.04" y="286.4" width="2.5" height="10.3" fill="#26a69a"/>
<rect x="603.21" y="250.9" width="0.9" height="38.3" fill="#26a69a"/>
<rect x="602.41" y="254.9" width="2.5" height="33.3" fill="#26a69a"/>
<rect x="606.59" y="215.0" width="0.9" height="50.4" fill="#ef5350"/>
<rect x="605.79" y="254.9" width="2.5" height="2.4" fill="#ef5350"/>
<rect x="609.96" y="231.6" width="0.9" height="27.0" fill="#26a69a"/>
<rect x="609.16" y="236.4" width="2.5" height="21.7" fill="#26a69a"/>
<rect x="613.34" y="221.9" width="0.9" height="21.7" fill="#26a69a"/>
<rect x="612.54" y="237.2" width="2.5" height="1.9" fill="#26a69a"/>
<rect x="616.71" y="233.6" width="0.9" height="18.6" fill="#ef5350"/>
<rect x="615.91" y="236.4" width="2.5" height="15.3" fill="#ef5350"/>
<rect x="620.09" y="238.8" width="0.9" height="25.8" fill="#ef5350"/>
<rect x="619.29" y="250.9" width="2.5" height="5.6" fill="#ef5350"/>
<rect x="623.46" y="251.7" width="0.9" height="20.1" fill="#ef5350"/>
<rect x="622.66" y="255.2" width="2.5" height="14.2" fill="#ef5350"/>
<rect x="626.84" y="265.4" width="0.9" height="12.0" fill="#26a69a"/>
<rect x="626.04" y="267.0" width="2.5" height="7.2" fill="#26a69a"/>
<rect x="630.21" y="263.7" width="0.9" height="13.7" fill="#ef5350"/>
<rect x="629.41" y="267.8" width="2.5" height="6.4" fill="#ef5350"/>
<rect x="633.59" y="248.1" width="0.9" height="25.9" fill="#26a69a"/>
<rect x="632.79" y="254.9" width="2.5" height="18.5" fill="#26a69a"/>
<rect x="636.96" y="220.3" width="0.9" height="36.2" fill="#26a69a"/>
<rect x="636.16" y="225.1" width="2.5" height="30.6" fill="#26a69a"/>
<rect x="640.34" y="222.4" width="0.9" height="24.4" fill="#ef5350"/>
<rect x="639.54" y="227.5" width="2.5" height="18.5" fill="#ef5350"/>
<rect x="643.71" y="237.2" width="0.9" height="14.5" fill="#ef5350"/>
<rect x="642.91" y="242.0" width="2.5" height="1.6" fill="#ef5350"/>
<rect x="647.09" y="239.6" width="0.9" height="41.9" fill="#ef5350"/>
<rect x="646.29" y="242.8" width="2.5" height="25.0" fill="#ef5350"/>
<rect x="650.46" y="264.6" width="0.9" height="48.5" fill="#ef5350"/>
<rect x="649.66" y="267.8" width="2.5" height="25.7" fill="#ef5350"/>
<rect x="653.84" y="263.7" width="0.9" height="45.0" fill="#26a69a"/>
<rect x="653.04" y="266.2" width="2.5" height="36.9" fill="#26a69a"/>
<rect x="657.21" y="261.3" width="0.9" height="27.3" fill="#ef5350"/>
<rect x="656.41" y="266.2" width="2.5" height="17.6" fill="#ef5350"/>
<rect x="660.59" y="264.5" width="0.9" height="48.6" fill="#26a69a"/>
<rect x="659.79" y="272.5" width="2.5" height="11.3" fill="#26a69a"/>
<rect x="663.96" y="252.5" width="0.9" height="24.1" fill="#26a69a"/>
<rect x="663.16" y="254.9" width="2.5" height="18.5" fill="#26a69a"/>
<rect x="667.34" y="246.8" width="0.9" height="12.1" fill="#26a69a"/>
<rect x="666.54" y="249.3" width="2.5" height="5.6" fill="#26a69a"/>
<rect x="670.71" y="220.3" width="0.9" height="39.4" fill="#26a69a"/>
<rect x="669.91" y="222.7" width="2.5" height="29.8" fill="#26a69a"/>
<rect x="674.09" y="210.6" width="0.9" height="24.2" fill="#ef5350"/>
<rect x="673.29" y="223.0" width="2.5" height="2.1" fill="#ef5350"/>
<rect x="677.47" y="211.4" width="0.9" height="21.0" fill="#26a69a"/>
<rect x="676.67" y="219.8" width="2.5" height="6.9" fill="#26a69a"/>
<rect x="680.84" y="205.8" width="0.9" height="16.1" fill="#26a69a"/>
<rect x="680.04" y="215.0" width="2.5" height="6.1" fill="#26a69a"/>
<rect x="684.22" y="207.4" width="0.9" height="29.2" fill="#ef5350"/>
<rect x="683.42" y="218.7" width="2.5" height="17.7" fill="#ef5350"/>
</g>
<rect x="678.15" y="160.1" width="7.1" height="28" rx="2" fill="#3d85c6"/><path d="M671.7 175.3 L681.7 187.0 L691.7 175.3" fill="none" stroke="#3d85c6" stroke-width="7.7" stroke-linecap="round" stroke-linejoin="miter"/><circle cx="681.7" cy="190.6" r="2" fill="#3d85c6"/>
<rect x="884.0" y="0" width="1" height="550" fill="#555b63"/>
<rect x="0" y="522.8" width="932" height="1" fill="#555b63"/>
<g stroke="#555b63" stroke-width="1">
<line x1="884.5" x2="888.0" y1="514.6" y2="514.6"/>
<line x1="884.5" x2="888.0" y1="475.5" y2="475.5"/>
<line x1="884.5" x2="888.0" y1="436.4" y2="436.4"/>
<line x1="884.5" x2="888.0" y1="397.3" y2="397.3"/>
<line x1="884.5" x2="888.0" y1="358.2" y2="358.2"/>
<line x1="884.5" x2="888.0" y1="319.1" y2="319.1"/>
<line x1="884.5" x2="888.0" y1="280.0" y2="280.0"/>
<line x1="884.5" x2="888.0" y1="240.9" y2="240.9"/>
<line x1="884.5" x2="888.0" y1="201.8" y2="201.8"/>
<line x1="884.5" x2="888.0" y1="162.7" y2="162.7"/>
<line x1="884.5" x2="888.0" y1="123.6" y2="123.6"/>
<line x1="884.5" x2="888.0" y1="84.5" y2="84.5"/>
<line x1="884.5" x2="888.0" y1="45.4" y2="45.4"/>
<line x1="884.5" x2="888.0" y1="6.3" y2="6.3"/>
<line x1="61.6" x2="61.6" y1="523.3" y2="526.8"/>
<line x1="138.6" x2="138.6" y1="523.3" y2="526.8"/>
<line x1="206.9" x2="206.9" y1="523.3" y2="526.8"/>
<line x1="284.2" x2="284.2" y1="523.3" y2="526.8"/>
<line x1="358.6" x2="358.6" y1="523.3" y2="526.8"/>
<line x1="429.2" x2="429.2" y1="523.3" y2="526.8"/>
<line x1="506.6" x2="506.6" y1="523.3" y2="526.8"/>
<line x1="577.7" x2="577.7" y1="523.3" y2="526.8"/>
<line x1="648.9" x2="648.9" y1="523.3" y2="526.8"/>
<line x1="722.6" x2="722.6" y1="523.3" y2="526.8"/>
<line x1="790.0" x2="790.0" y1="523.3" y2="526.8"/>
<line x1="864.5" x2="864.5" y1="523.3" y2="526.8"/>
</g>
<g font-family="Liberation Sans, sans-serif" font-size="11" fill="#50555e">
<text x="892.1" y="519.8" textLength="32.7" lengthAdjust="spacingAndGlyphs">115.000</text>
<text x="892.1" y="480.6" textLength="32.7" lengthAdjust="spacingAndGlyphs">116.000</text>
<text x="892.1" y="441.4" textLength="32.7" lengthAdjust="spacingAndGlyphs">117.000</text>
<text x="892.1" y="402.3" textLength="32.7" lengthAdjust="spacingAndGlyphs">118.000</text>
<text x="892.1" y="363.1" textLength="32.7" lengthAdjust="spacingAndGlyphs">119.000</text>
<text x="892.1" y="284.9" textLength="32.7" lengthAdjust="spacingAndGlyphs">121.000</text>
<text x="892.1" y="206.6" textLength="32.7" lengthAdjust="spacingAndGlyphs">123.000</text>
<text x="892.1" y="167.4" textLength="32.7" lengthAdjust="spacingAndGlyphs">124.000</text>
<text x="892.1" y="128.2" textLength="32.7" lengthAdjust="spacingAndGlyphs">125.000</text>
<text x="892.1" y="89.1" textLength="32.7" lengthAdjust="spacingAndGlyphs">126.000</text>
<text x="892.1" y="50.0" textLength="32.7" lengthAdjust="spacingAndGlyphs">127.000</text>
<text x="892.1" y="10.8" textLength="32.7" lengthAdjust="spacingAndGlyphs">128.000</text>
</g>
<g font-family="Liberation Sans, sans-serif" font-size="11" fill="#50555e" text-anchor="middle">
<text x="61.2" y="542.6" textLength="16.6" lengthAdjust="spacingAndGlyphs">May</text>
<text x="138.2" y="542.6" textLength="14.6" lengthAdjust="spacingAndGlyphs">Jun</text>
<text x="206.5" y="542.6" textLength="12.0" lengthAdjust="spacingAndGlyphs">Jul</text>
<text x="283.8" y="542.6" textLength="16.2" lengthAdjust="spacingAndGlyphs">Aug</text>
<text x="358.20000000000005" y="542.6" textLength="16.0" lengthAdjust="spacingAndGlyphs">Sep</text>
<text x="428.8" y="542.6" textLength="14.4" lengthAdjust="spacingAndGlyphs">Oct</text>
<text x="506.20000000000005" y="542.6" textLength="16.4" lengthAdjust="spacingAndGlyphs">Nov</text>
<text x="577.3000000000001" y="542.6" textLength="15.6" lengthAdjust="spacingAndGlyphs">Dec</text>
<text x="648.5" y="542.6" font-weight="bold" fill="#3c4049" textLength="21.5" lengthAdjust="spacingAndGlyphs">2020</text>
<text x="722.2" y="542.6" textLength="15.0" lengthAdjust="spacingAndGlyphs">Feb</text>
<text x="789.6" y="542.6" textLength="15.6" lengthAdjust="spacingAndGlyphs">Mar</text>
<text x="864.1" y="542.6" textLength="14.2" lengthAdjust="spacingAndGlyphs">Apr</text>
</g>
<rect x="884.2" y="212" width="47.8" height="18" fill="#ff0000"/>
<rect x="884.2" y="230" width="47.8" height="18" fill="#ef5350"/>
<rect x="884.2" y="306.7" width="47.8" height="17.6" fill="#00ff00"/>
<rect x="884.5" y="221" width="3.5" height="1" fill="#fff"/><rect x="884.5" y="239" width="3.5" height="1" fill="#fff"/>
<g font-family="Liberation Sans, sans-serif" font-size="11">
<text x="892.1" y="224.7" fill="#fff" textLength="32.7" lengthAdjust="spacingAndGlyphs">122.487</text>
<text x="892.1" y="242.4" fill="#fff" textLength="32.7" lengthAdjust="spacingAndGlyphs">122.120</text>
<text x="892.1" y="318.8" fill="#12e212" stroke="#103a10" stroke-width="0.45" stroke-opacity="0.85" textLength="32.7" lengthAdjust="spacingAndGlyphs">120.051</text>
</g>
<g font-family="Liberation Sans, sans-serif" font-size="11">
<text x="6.9" y="20.6" font-weight="bold" fill="#3a3f4a" textLength="149" lengthAdjust="spacingAndGlyphs">Euro / Japanese Yen, 1D, FXCM</text>
<text x="6.9" y="37.5" fill="#6a6e76" textLength="71.6" lengthAdjust="spacingAndGlyphs">EMA (50, close)</text>
</g>
<text x="603.1" y="148.3" font-family="Liberation Sans, sans-serif" font-weight="bold" font-size="31" fill="#000" textLength="163.5" lengthAdjust="spacingAndGlyphs">False break</text>
<g>
<ellipse cx="702.2" cy="485.0" rx="9.3" ry="11.3" fill="none" stroke="#f0605c" stroke-width="0.75"/>
<ellipse cx="700.6" cy="485.0" rx="9.3" ry="11.3" fill="none" stroke="#f0605c" stroke-width="0.75"/>
<ellipse cx="699.0" cy="485.0" rx="9.3" ry="11.3" fill="none" stroke="#f0605c" stroke-width="0.75"/><ellipse cx="699.0" cy="485.0" rx="7.3" ry="9.1" fill="#fff"/><ellipse cx="699.0" cy="485.0" rx="6.1" ry="7.9" fill="#2e7fc4" stroke="#3b4a63" stroke-width="0.6" stroke-dasharray="1 1"/><circle cx="702.9" cy="485.0" r="0.65" fill="#f0a58a"/><circle cx="702.4" cy="487.5" r="0.65" fill="#f0a58a"/><circle cx="701.0" cy="489.3" r="0.65" fill="#f0a58a"/><circle cx="699.0" cy="490.0" r="0.65" fill="#f0a58a"/><circle cx="697.0" cy="489.3" r="0.65" fill="#f0a58a"/><circle cx="695.6" cy="487.5" r="0.65" fill="#f0a58a"/><circle cx="695.1" cy="485.0" r="0.65" fill="#f0a58a"/><circle cx="695.6" cy="482.5" r="0.65" fill="#f0a58a"/><circle cx="697.0" cy="480.7" r="0.65" fill="#f0a58a"/><circle cx="699.0" cy="480.0" r="0.65" fill="#f0a58a"/><circle cx="701.0" cy="480.7" r="0.65" fill="#f0a58a"/><circle cx="702.4" cy="482.5" r="0.65" fill="#f0a58a"/>
<ellipse cx="691.6" cy="485.0" rx="9.3" ry="11.3" fill="none" stroke="#f0605c" stroke-width="0.75"/><ellipse cx="691.6" cy="485.0" rx="7.3" ry="9.1" fill="#fff"/><ellipse cx="691.6" cy="485.0" rx="6" ry="7.8" fill="#f4f4f6" stroke="#ef5350" stroke-width="0.5" stroke-dasharray="2.2 1.8" stroke-opacity="0.55"/><ellipse cx="691.6" cy="485.4" rx="3.05" ry="3.55" fill="#ef5350"/>
<ellipse cx="688.4" cy="485.0" rx="9.3" ry="11.3" fill="none" stroke="#f0605c" stroke-width="0.75"/>
<ellipse cx="685.4" cy="485.0" rx="9.3" ry="11.3" fill="none" stroke="#f0605c" stroke-width="0.75"/><ellipse cx="685.4" cy="485.0" rx="7.3" ry="9.1" fill="#fff"/><ellipse cx="685.4" cy="485.0" rx="6" ry="7.8" fill="#f4f4f6" stroke="#ef5350" stroke-width="0.5" stroke-dasharray="2.2 1.8" stroke-opacity="0.55"/><ellipse cx="685.4" cy="485.4" rx="3.05" ry="3.55" fill="#ef5350"/>
<circle cx="706.6" cy="477.3" r="5.4" fill="#fff"/><text x="706.6" y="480.8" text-anchor="middle" font-family="Liberation Sans, sans-serif" font-size="10" fill="#3c4049" textLength="4.6" lengthAdjust="spacingAndGlyphs">3</text>
<ellipse cx="702.2" cy="509.0" rx="9.3" ry="11.3" fill="none" stroke="#f0605c" stroke-width="0.75"/>
<ellipse cx="700.4" cy="509.0" rx="9.3" ry="11.3" fill="none" stroke="#f0605c" stroke-width="0.75"/><ellipse cx="700.4" cy="509.0" rx="7.3" ry="9.1" fill="#fff"/><ellipse cx="700.4" cy="509.0" rx="6.1" ry="7.9" fill="#2e7fc4" stroke="#3b4a63" stroke-width="0.6" stroke-dasharray="1 1"/><circle cx="704.3" cy="509.0" r="0.65" fill="#f0a58a"/><circle cx="703.8" cy="511.5" r="0.65" fill="#f0a58a"/><circle cx="702.4" cy="513.3" r="0.65" fill="#f0a58a"/><circle cx="700.4" cy="514.0" r="0.65" fill="#f0a58a"/><circle cx="698.4" cy="513.3" r="0.65" fill="#f0a58a"/><circle cx="697.0" cy="511.5" r="0.65" fill="#f0a58a"/><circle cx="696.5" cy="509.0" r="0.65" fill="#f0a58a"/><circle cx="697.0" cy="506.5" r="0.65" fill="#f0a58a"/><circle cx="698.4" cy="504.7" r="0.65" fill="#f0a58a"/><circle cx="700.4" cy="504.0" r="0.65" fill="#f0a58a"/><circle cx="702.4" cy="504.7" r="0.65" fill="#f0a58a"/><circle cx="703.8" cy="506.5" r="0.65" fill="#f0a58a"/>
<ellipse cx="697.8" cy="509.0" rx="9.3" ry="11.3" fill="none" stroke="#f0605c" stroke-width="0.75"/>
<ellipse cx="694.0" cy="509.0" rx="9.3" ry="11.3" fill="none" stroke="#f0605c" stroke-width="0.75"/><ellipse cx="694.0" cy="509.0" rx="7.3" ry="9.1" fill="#fff"/><ellipse cx="694.0" cy="509.0" rx="6.1" ry="7.9" fill="#2e7fc4" stroke="#3b4a63" stroke-width="0.6" stroke-dasharray="1 1"/><circle cx="697.9" cy="509.0" r="0.65" fill="#f0a58a"/><circle cx="697.4" cy="511.5" r="0.65" fill="#f0a58a"/><circle cx="696.0" cy="513.3" r="0.65" fill="#f0a58a"/><circle cx="694.0" cy="514.0" r="0.65" fill="#f0a58a"/><circle cx="692.0" cy="513.3" r="0.65" fill="#f0a58a"/><circle cx="690.6" cy="511.5" r="0.65" fill="#f0a58a"/><circle cx="690.1" cy="509.0" r="0.65" fill="#f0a58a"/><circle cx="690.6" cy="506.5" r="0.65" fill="#f0a58a"/><circle cx="692.0" cy="504.7" r="0.65" fill="#f0a58a"/><circle cx="694.0" cy="504.0" r="0.65" fill="#f0a58a"/><circle cx="696.0" cy="504.7" r="0.65" fill="#f0a58a"/><circle cx="697.4" cy="506.5" r="0.65" fill="#f0a58a"/>
<ellipse cx="689.5" cy="509.0" rx="9.3" ry="11.3" fill="none" stroke="#f0605c" stroke-width="0.75"/><ellipse cx="689.5" cy="509.0" rx="7.3" ry="9.1" fill="#fff"/>
<ellipse cx="687.9" cy="509.0" rx="9.3" ry="11.3" fill="none" stroke="#f0605c" stroke-width="0.75"/>
<ellipse cx="686.6" cy="509.0" rx="9.3" ry="11.3" fill="none" stroke="#f0605c" stroke-width="0.75"/>
<ellipse cx="685.5" cy="509.0" rx="9.3" ry="11.3" fill="none" stroke="#f0605c" stroke-width="0.75"/><ellipse cx="685.5" cy="509.0" rx="7.3" ry="9.1" fill="#fff"/><ellipse cx="685.5" cy="509.0" rx="6.1" ry="7.9" fill="#2e7fc4" stroke="#3b4a63" stroke-width="0.6" stroke-dasharray="1 1"/><circle cx="689.4" cy="509.0" r="0.65" fill="#f0a58a"/><circle cx="688.9" cy="511.5" r="0.65" fill="#f0a58a"/><circle cx="687.5" cy="513.3" r="0.65" fill="#f0a58a"/><circle cx="685.5" cy="514.0" r="0.65" fill="#f0a58a"/><circle cx="683.5" cy="513.3" r="0.65" fill="#f0a58a"/><circle cx="682.1" cy="511.5" r="0.65" fill="#f0a58a"/><circle cx="681.6" cy="509.0" r="0.65" fill="#f0a58a"/><circle cx="682.1" cy="506.5" r="0.65" fill="#f0a58a"/><circle cx="683.5" cy="504.7" r="0.65" fill="#f0a58a"/><circle cx="685.5" cy="504.0" r="0.65" fill="#f0a58a"/><circle cx="687.5" cy="504.7" r="0.65" fill="#f0a58a"/><circle cx="688.9" cy="506.5" r="0.65" fill="#f0a58a"/>
<circle cx="692.6" cy="501.2" r="5.4" fill="#fff"/><text x="692.6" y="504.7" text-anchor="middle" font-family="Liberation Sans, sans-serif" font-size="10" fill="#3c4049" textLength="4.6" lengthAdjust="spacingAndGlyphs">6</text>
<circle cx="703.1" cy="501.2" r="5.4" fill="#fff"/><text x="703.1" y="504.7" text-anchor="middle" font-family="Liberation Sans, sans-serif" font-size="10" fill="#3c4049" textLength="4.6" lengthAdjust="spacingAndGlyphs">3</text>
<circle cx="708.7" cy="501.2" r="5.4" fill="#fff"/><text x="708.7" y="504.7" text-anchor="middle" font-family="Liberation Sans, sans-serif" font-size="10" fill="#3c4049" textLength="4.6" lengthAdjust="spacingAndGlyphs">1</text>
</g>
</svg>
</body></html>
